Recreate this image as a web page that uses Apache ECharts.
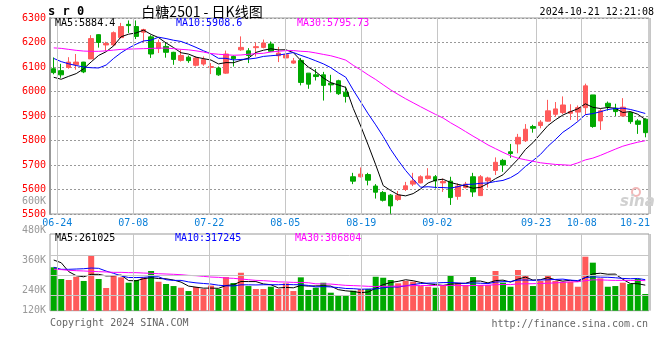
<!DOCTYPE html>
<html><head><meta charset="utf-8">
<script src="https://cdn.jsdelivr.net/npm/echarts@6/dist/echarts.min.js"></script>
<style>html,body{margin:0;padding:0;background:#fff}#c{width:660px;height:360px}</style>
</head><body><div id="c"></div>
<script>
const dates = ['06-21','06-24','06-25','06-26','06-27','06-28',
 '07-01','07-02','07-03','07-04','07-05','07-08','07-09','07-10','07-11','07-12','07-15','07-16','07-17','07-18','07-19','07-22','07-23','07-24','07-25','07-26','07-29','07-30','07-31',
 '08-01','08-02','08-05','08-06','08-07','08-08','08-09','08-12','08-13','08-14','08-15','08-16','08-19','08-20','08-21','08-22','08-23','08-26','08-27','08-28','08-29','08-30',
 '09-02','09-03','09-04','09-05','09-06','09-09','09-10','09-11','09-12','09-13','09-18','09-19','09-20','09-23','09-24','09-25','09-26','09-27','09-30',
 '10-08','10-09','10-10','10-11','10-14','10-15','10-16','10-17','10-18','10-21'];
const opens = [6093,6085,6098,6109,6120,6133,6232,6190,6190,6220, 6274,6265,6242,6223,6175,6184,6160,6127,6140,6107,
 6112,6098,6096,6075,6143,6170,6166,6179,6180,6194, 6146,6137,6116,6127,6075,6068,6068,6034,6044,5997,
 5652,5652,5661,5614,5588,5577,5559,5600,5622,5627, 5645,5652,5627,5634,5572,5608,5652,5575,5635,5678,
 5719,5754,5786,5799,5857,5861,5879,5907,5914,5911, 5916,5934,5986,5880,5952,5932,5900,5914,5880,5887];
const closes = [6077,6068,6120,6120,6080,6216,6200,6196,6240,6265, 6269,6225,6253,6153,6200,6160,6131,6147,6126,6137,
 6130,6102,6068,6153,6134,6180,6147,6183,6198,6164, 6157,6150,6125,6037,6030,6061,6025,6027,5991,5980,
 5634,5663,5638,5589,5556,5533,5577,5615,5635,5652, 5655,5635,5633,5567,5614,5622,5590,5652,5647,5711,
 5700,5747,5813,5846,5850,5875,5921,5929,5945,5918, 5934,6023,5857,5921,5939,5918,5936,5877,5866,5832];
const lows = [6070,6056,6093,6089,6075,6133,6179,6166,6185,6218, 6239,6214,6201,6137,6157,6138,6109,6122,6117,6102,
 6105,6071,6064,6072,6102,6166,6116,6143,6176,6162, 6120,6112,6113,6025,6011,6045,5963,5996,5986,5955,
 5622,5649,5617,5563,5551,5501,5553,5594,5614,5625, 5641,5604,5590,5537,5558,5604,5570,5575,5608,5659,
 5672,5729,5748,5794,5832,5850,5877,5896,5908,5884, 5881,5905,5852,5843,5922,5900,5900,5868,5827,5813];
const highs = [6139,6113,6140,6153,6121,6230,6234,6203,6245,6280, 6290,6290,6256,6230,6212,6198,6162,6170,6147,6143,
 6143,6116,6102,6167,6147,6225,6177,6200,6212,6204, 6182,6194,6137,6137,6075,6092,6080,6068,6048,6020,
 5668,5690,5668,5622,5594,5581,5594,5631,5668,5658, 5687,5659,5645,5652,5625,5631,5668,5659,5652,5731,
 5725,5786,5827,5867,5864,5883,5966,5957,5980,5948, 5943,6032,5986,5928,5959,5950,5973,5918,5887,5891];
const volumes = [444000,324000,314000,347000,304000,569000,324000,232000,355000,341000,
 286000,314000,341000,406000,296000,273000,252000,235000,201000,242000,
 222000,256000,222000,344000,283000,388000,252000,222000,222000,245000,
 222000,280000,201000,341000,212000,235000,286000,184000,160000,150000,
 204000,222000,222000,347000,337000,314000,280000,304000,296000,252000,
 245000,235000,263000,358000,286000,263000,344000,263000,263000,406000,
 286000,245000,416000,365000,252000,304000,355000,304000,296000,296000,
 245000,552000,491000,331000,245000,252000,286000,273000,324000,171000];
// MA values before enough history exists
const ma5Head = [6058,6050,6062,6073];
const ma10Head = [6135,6122,6113,6106,6100,6097,6096,6108,6135];
const ma30Head = [6178,6176,6172,6168,6165,6164,6164,6166,6169,6172,6173,6174,6175,6176,6177,6177,6175,6172,6170,6166,6161,6155,6152,6150,6148,6149,6152,6154,6156];
const vma5Head = [518000,490000,399000,358000];
const vma10Head = [444000,423000,423000,426000,429000,436000,433000,405000,382000];
const vma30Head = [423000,420000,413000,409000,406000,402000,399000,396000,392000,392000,389000,389000,385000,382000,378000,375000,372000,368000,361000,358000,351000,344000,341000,334000,331000,324000,317000,310000,307000];
const labelDates = ['06-24','07-08','07-22','08-05','08-19','09-02','09-23','10-08','10-21'];
const priceMALabels = ['MA5:5884.4','MA10:5908.6','MA30:5795.73'];
const volMALabels = ['MA5:261025','MA10:317245','MA30:306804'];
const volTickLabels = ['600K','480K','360K','240K','120K'];
const volGridValues = [160400,364800,569200];

function ma(vals, n, head){
  return vals.map((v,i)=>{
    if (i < n-1) return head[i];
    let s = 0; for (let k=i-n+1;k<=i;k++) s += vals[k];
    return +(s/n).toFixed(2);
  });
}
const RED='#ff5a5a', GREEN='#00a800';
const MONO='"DejaVu Sans Mono", "Liberation Mono", monospace';
const kData = opens.map((o,i)=>[o, closes[i], lows[i], highs[i]]);
const volData = volumes.map((v,i)=>({value:v, itemStyle:{color: closes[i]>=opens[i]?RED:GREEN}}));
const gridDot = {color:'#999999', type:[2,2], width:1};
const gridMark = {color:'#c6c6c6', type:'solid', width:1};

const chart = echarts.init(document.getElementById('c'), null, {renderer:'canvas'});
const lineS = (name, data, color, xi, yi) => ({name, type:'line', data, xAxisIndex:xi, yAxisIndex:yi,
  showSymbol:false, symbol:'none', smooth:false, lineStyle:{color, width:1}, z:4, silent:true});

const txt = (x,y,text,fill,font,align) => ({type:'text', x, y, silent:true, z:10,
  style:{text, fill, font, align: align||'left', verticalAlign:'middle'}});

// vertical grid lines: markLines on invisible helper series in the overlay grids
const vHelper = (xi, yi) => ({type:'line', xAxisIndex:xi, yAxisIndex:yi, data:dates.map(()=>0.5),
  lineStyle:{opacity:0}, showSymbol:false, symbol:'none', silent:true, z:1,
  markLine:{silent:true, symbol:'none', label:{show:false}, lineStyle:gridMark,
    data: labelDates.map(d=>({xAxis:d}))}});

chart.setOption({
  animation:false,
  backgroundColor:'#fff',
  grid:[
    {left:50, width:599, top:18, height:196, show:true, borderColor:'#999', borderWidth:1, backgroundColor:'transparent'},
    {left:50, width:599, top:234, height:76.7, show:true, borderColor:'#999', borderWidth:1, backgroundColor:'transparent'},
    {left:49.7, width:600.4, top:18, height:196},
    {left:49.7, width:600.4, top:234, height:76.7}
  ],
  xAxis:[
    {type:'category', gridIndex:0, data:dates, boundaryGap:true, show:false},
    {type:'category', gridIndex:1, data:dates, boundaryGap:true, show:false},
    {type:'category', gridIndex:2, data:dates, boundaryGap:false,
      axisLine:{show:false}, axisTick:{show:false},
      axisLabel:{interval:(i,v)=>labelDates.includes(v), color:'#0a7fd8', fontFamily:MONO, fontSize:10, margin:4, alignMaxLabel:'right'},
      splitLine:{show:false}},
    {type:'category', gridIndex:3, data:dates, boundaryGap:false, show:false}
  ],
  yAxis:[
    {type:'value', gridIndex:0, min:5500, max:6300, interval:100,
      axisLine:{show:true, lineStyle:{color:'#999', width:2}}, axisTick:{show:false},
      axisLabel:{color:'#ff0000', fontFamily:MONO, fontSize:10, margin:4, showMinLabel:true, showMaxLabel:true,
        formatter:(v)=>String(v)},
      splitLine:{show:true, lineStyle:gridDot}},
    {type:'value', gridIndex:1, min:0, max:784000, show:false},
    {type:'value', gridIndex:2, min:0, max:1, show:false},
    {type:'value', gridIndex:3, min:0, max:1, show:false}
  ],
  series:[
    vHelper(2,2), vHelper(3,3),
    {type:'line', xAxisIndex:1, yAxisIndex:1, data:volumes.map(()=>0), lineStyle:{opacity:0}, showSymbol:false, symbol:'none', silent:true, z:1,
      markLine:{silent:true, symbol:'none', label:{show:false}, lineStyle:gridMark,
        data: volGridValues.map(v=>({yAxis:v}))}},
    {type:'candlestick', xAxisIndex:0, yAxisIndex:0, data:kData, barWidth:5, z:3, silent:true,
      itemStyle:{color:RED, color0:GREEN, borderColor:RED, borderColor0:GREEN, borderWidth:1}},
    lineS('MA5', ma(closes,5,ma5Head), '#000000', 0, 0),
    lineS('MA10', ma(closes,10,ma10Head), '#0000ff', 0, 0),
    lineS('MA30', ma(closes,30,ma30Head), '#ff00ff', 0, 0),
    {type:'bar', xAxisIndex:1, yAxisIndex:1, data:volData, barWidth:6, z:3, silent:true},
    lineS('VMA5', ma(volumes,5,vma5Head), '#000000', 1, 1),
    lineS('VMA10', ma(volumes,10,vma10Head), '#0000ff', 1, 1),
    lineS('VMA30', ma(volumes,30,vma30Head), '#ff00ff', 1, 1)
  ],
  graphic:[
    txt(48, 12, 's r 0', '#000', 'bold 12px '+MONO),
    txt(202, 12, '白糖2501 - 日K线图', '#000', '14px "Noto Sans CJK SC"', 'center'),
    txt(654, 12, '2024-10-21 12:21:08', '#000', '10px '+MONO, 'right'),
    txt(55, 23.5, priceMALabels[0], '#000000', '10px '+MONO),
    txt(176, 23.5, priceMALabels[1], '#0000ff', '10px '+MONO),
    txt(297, 23.5, priceMALabels[2], '#ff00ff', '10px '+MONO),
    txt(55, 238.5, volMALabels[0], '#000000', '10px '+MONO),
    txt(175, 238.5, volMALabels[1], '#0000ff', '10px '+MONO),
    txt(295, 238.5, volMALabels[2], '#ff00ff', '10px '+MONO),
    txt(46, 201, volTickLabels[0], '#999', '10px '+MONO, 'right'),
    txt(46, 230.5, volTickLabels[1], '#999', '10px '+MONO, 'right'),
    txt(46, 260, volTickLabels[2], '#999', '10px '+MONO, 'right'),
    txt(46, 290, volTickLabels[3], '#999', '10px '+MONO, 'right'),
    txt(46, 310, volTickLabels[4], '#999', '10px '+MONO, 'right'),
    txt(50, 323.5, 'Copyright 2024 SINA.COM', '#666', '10px '+MONO),
    txt(648, 324.5, 'http://finance.sina.com.cn', '#666', '10px '+MONO, 'right'),
    {type:'circle', shape:{cx:636, cy:192, r:4}, silent:true, z:1, style:{fill:'none', stroke:'#f2b8b8', lineWidth:2}},
    txt(620, 202, 'sina', '#d0d0d0', 'italic bold 15px "DejaVu Sans"')
  ]
});
</script></body></html>
